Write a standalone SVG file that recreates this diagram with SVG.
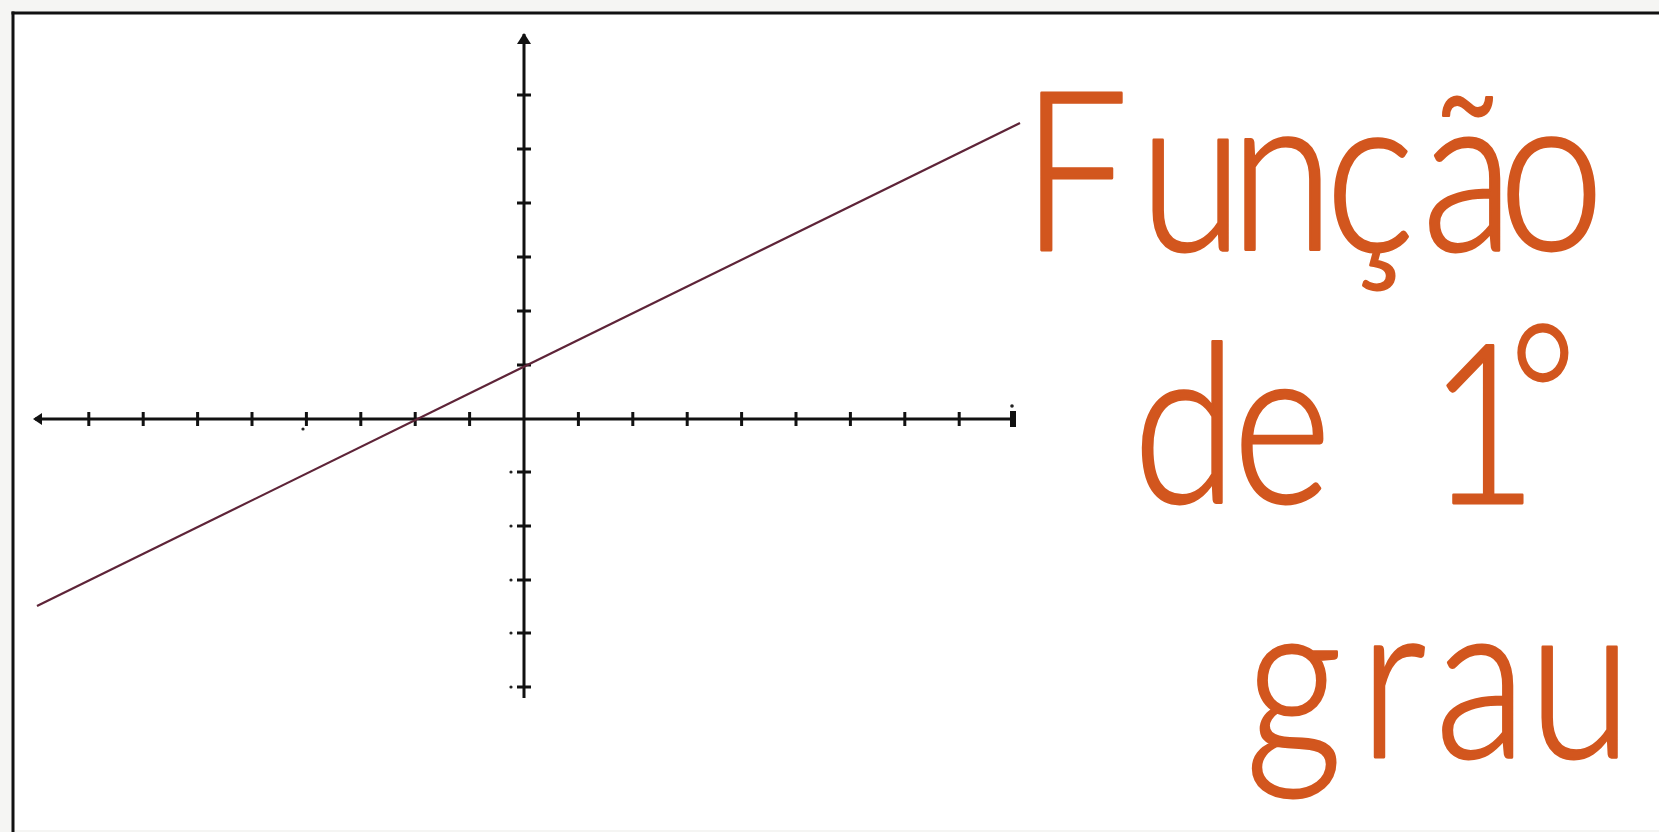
<svg xmlns="http://www.w3.org/2000/svg" width="1659" height="832" viewBox="0 0 1659 832">
<style>
.ax{stroke:#111;stroke-width:3;fill:none}
.tk{stroke:#111;stroke-width:3}
.dot{fill:#222}
.title{font-family:Lato,"Liberation Sans",sans-serif;font-weight:300;font-size:222px;fill:#D2561E;stroke:#D2561E;stroke-width:2.8;stroke-linejoin:round;text-anchor:middle}
</style>
<rect x="0" y="0" width="1659" height="832" fill="#F5F5F3"/>
<rect x="13" y="13" width="1646" height="817" fill="#FFFFFF"/>
<g id="frame">
<line x1="11.5" y1="13" x2="1659" y2="13" class="ax"/>
<line x1="13" y1="11.5" x2="13" y2="832" class="ax"/>
</g>
<g id="axes">
<line x1="35" y1="419" x2="1014" y2="419" class="ax"/>
<line x1="524" y1="34" x2="524" y2="698" class="ax"/>
<polygon points="33,419 42,413 42,425" fill="#111"/>
<polygon points="524,33 517,44 531,44" fill="#111"/>
<rect x="1010" y="411" width="6" height="16" fill="#111"/>
<circle cx="1012" cy="406" r="1.8" class="dot"/>
<g class="tk">
<line x1="88.8" y1="412" x2="88.8" y2="426"/>
<line x1="143.2" y1="412" x2="143.2" y2="426"/>
<line x1="197.6" y1="412" x2="197.6" y2="426"/>
<line x1="252" y1="412" x2="252" y2="426"/>
<line x1="306.4" y1="412" x2="306.4" y2="426"/>
<line x1="360.8" y1="412" x2="360.8" y2="426"/>
<line x1="415.2" y1="412" x2="415.2" y2="426"/>
<line x1="469.6" y1="412" x2="469.6" y2="426"/>
<line x1="578.4" y1="412" x2="578.4" y2="426"/>
<line x1="632.8" y1="412" x2="632.8" y2="426"/>
<line x1="687.2" y1="412" x2="687.2" y2="426"/>
<line x1="741.6" y1="412" x2="741.6" y2="426"/>
<line x1="796" y1="412" x2="796" y2="426"/>
<line x1="850.4" y1="412" x2="850.4" y2="426"/>
<line x1="904.8" y1="412" x2="904.8" y2="426"/>
<line x1="959.2" y1="412" x2="959.2" y2="426"/>
<line x1="517" y1="95" x2="531" y2="95"/>
<line x1="517" y1="149" x2="531" y2="149"/>
<line x1="517" y1="203" x2="531" y2="203"/>
<line x1="517" y1="257" x2="531" y2="257"/>
<line x1="517" y1="311" x2="531" y2="311"/>
<line x1="517" y1="365" x2="531" y2="365"/>
<line x1="517" y1="472" x2="531" y2="472"/>
<line x1="517" y1="526" x2="531" y2="526"/>
<line x1="517" y1="580" x2="531" y2="580"/>
<line x1="517" y1="633" x2="531" y2="633"/>
<line x1="517" y1="687" x2="531" y2="687"/>
</g>
<circle cx="511" cy="472" r="1.6" class="dot"/>
<circle cx="511" cy="526" r="1.6" class="dot"/>
<circle cx="511" cy="580" r="1.6" class="dot"/>
<circle cx="511" cy="633" r="1.6" class="dot"/>
<circle cx="511" cy="687" r="1.6" class="dot"/>
<circle cx="303" cy="429" r="1.6" class="dot"/>
</g>
<g id="function-line">
<line x1="37" y1="606" x2="1020" y2="123" stroke="#5E2438" stroke-width="2.2"/>
</g>
<g id="title" transform="scale(0.85 1)">
<text class="title" x="1264.7 1401.2 1508.2 1611.8 1727.1 1825.3" y="250">Função</text>
<text class="title" x="1394.1 1508.2 1623.5 1744.7" y="503">de 1<tspan x="1815.3" y="460" font-size="190">°</tspan></text>
<text class="title" x="1522.4 1638.8 1742.4 1858.8" y="757">grau</text>
</g>
</svg>
